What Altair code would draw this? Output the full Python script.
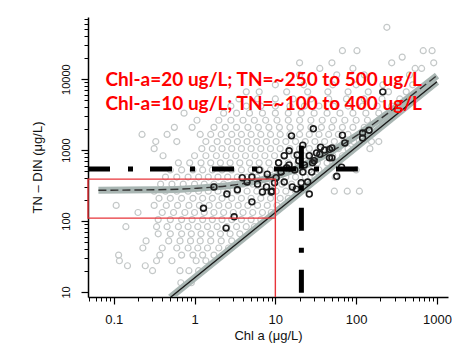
import altair as alt
import pandas as pd

# ---- data (log10 units) ----
# gray points: (log10 TN-DIN, [log10 Chl a, ...])
gray_rows = [
    (1.13, [-0.17, -0.04]),
    (1.30, [-0.52, -0.18, -0.07, 0.05]),
    (1.37, [-0.83, -0.61]),
    (1.44, [-0.93, -0.47, -0.28, 0.02, 0.14]),
    (1.52, [-0.94, -0.43, -0.16, -0.02, 0.10, 0.24]),
    (1.62, [-0.64, -0.40, -0.22, -0.08, 0.04, 0.16, 0.30, 0.42]),
    (1.72, [-0.60, -0.32, -0.18, -0.05, 0.07, 0.20, 0.33, 0.46]),
    (1.82, [-0.45, -0.30, -0.16, -0.04, 0.08, 0.20, 0.32, 0.44, 0.56]),
    (1.92, [-0.85, -0.47, -0.34, -0.20, -0.08, 0.04, 0.16, 0.28, 0.40, 0.52, 0.64, 0.74]),
    (2.02, [-0.45, -0.30, -0.16, -0.03, 0.10, 0.22, 0.34, 0.46, 0.58, 0.70, 0.82]),
    (2.12, [-0.70, -0.40, -0.26, -0.12, 0.00, 0.12, 0.24, 0.36, 0.48, 0.60, 0.72, 0.84, 0.95]),
    (2.22, [-0.97, -0.50, -0.35, -0.21, -0.07, 0.06, 0.18, 0.30, 0.42, 0.54, 0.66, 0.78, 0.90, 1.02]),
    (2.32, [-0.44, -0.30, -0.16, -0.02, 0.10, 0.22, 0.34, 0.46, 0.58, 0.70, 0.82, 0.94, 1.06, 1.16]),
    (2.42, [-0.50, -0.36, -0.22, -0.08, 0.05, 0.17, 0.29, 0.41, 0.53, 0.65, 0.77, 0.89, 1.01, 1.13, 1.25, 1.73, 1.89, 2.04]),
    (2.52, [-0.42, -0.28, -0.14, 0.00, 0.12, 0.24, 0.36, 0.48, 0.60, 0.72, 0.84, 0.96, 1.08, 1.20, 1.32, 1.42]),
    (2.62, [-0.36, -0.22, -0.08, 0.05, 0.17, 0.29, 0.41, 0.53, 0.65, 0.77, 0.89, 1.01, 1.13, 1.25, 1.37, 1.49, 1.74]),
    (2.72, [-0.30, -0.16, -0.02, 0.10, 0.22, 0.34, 0.46, 0.58, 0.70, 0.82, 0.94, 1.06, 1.18, 1.30, 1.42, 1.54, 1.64, 2.00]),
    (2.82, [-0.20, -0.06, 0.08, 0.20, 0.32, 0.44, 0.56, 0.68, 0.80, 0.92, 1.04, 1.16, 1.28, 1.40, 1.52, 1.64, 1.75]),
    (2.92, [-0.39, 0.00, 0.14, 0.27, 0.39, 0.51, 0.63, 0.75, 0.87, 0.99, 1.11, 1.23, 1.35, 1.47, 1.59, 1.71, 1.83]),
    (3.02, [-0.50, 0.09, 0.22, 0.34, 0.46, 0.58, 0.70, 0.82, 0.94, 1.06, 1.18, 1.30, 1.42, 1.54, 1.66, 1.78, 1.90, 2.17]),
    (3.12, [-0.48, -0.22, 0.14, 0.28, 0.41, 0.53, 0.65, 0.77, 0.89, 1.01, 1.13, 1.25, 1.37, 1.49, 1.61, 1.73, 1.85, 1.97, 2.19, 2.28]),
    (3.22, [-0.65, -0.34, 0.07, 0.20, 0.33, 0.46, 0.58, 0.70, 0.82, 0.94, 1.06, 1.18, 1.30, 1.42, 1.54, 1.66, 1.78, 1.90, 2.04]),
    (3.32, [-0.25, -0.03, 0.24, 0.38, 0.52, 0.66, 0.79, 0.92, 1.05, 1.18, 1.31, 1.44, 1.57, 1.70, 1.83, 1.96, 2.10]),
    (3.42, [0.03, 0.30, 0.45, 0.60, 0.74, 0.88, 1.02, 1.16, 1.30, 1.44, 1.58, 1.72, 1.86, 2.00, 2.14, 2.28]),
    (3.52, [-0.13, 0.36, 0.52, 0.68, 0.84, 1.00, 1.16, 1.32, 1.48, 1.64, 1.80, 1.96, 2.12, 2.28, 2.42]),
    (3.62, [0.45, 0.64, 0.82, 1.00, 1.18, 1.36, 1.54, 1.72, 1.90, 2.08, 2.26, 2.44]),
    (3.72, [0.55, 0.78, 1.00, 1.22, 1.44, 1.66, 1.88, 2.10, 2.32, 2.54]),
    (3.82, [0.64, 0.80, 1.14, 1.40, 1.65, 1.90, 2.15, 2.40, 2.62]),
    (3.92, [1.00, 1.35, 1.71, 2.00, 2.33, 2.52, 2.70]),
    (4.06, [1.30, 1.76, 2.10, 2.66]),
    (4.15, [1.55, 1.96, 2.73, 2.81]),
    (4.23, [1.30, 1.70, 2.44, 2.96]),
    (4.31, [2.57]),
    (4.40, [1.83, 2.01, 2.83, 2.94]),
    (4.73, [2.38]),
]

black_chl_log = [2.33, 2.08, 2.16, 1.83, 1.86, 1.70, 1.47, 1.20, 1.34, 1.56, 1.67, 1.17,
                 1.11, 1.27, 1.42, 1.51, 1.70, 1.04, 1.17, 1.46, 1.82, 0.80, 0.90, 1.07,
                 1.14, 1.34, 1.45, 0.59, 0.71, 0.65, 0.78, 0.89, 0.99, 1.11, 1.21, 1.32,
                 1.40, 1.26, 0.53, 0.40, 0.84, 0.96, 0.71, 1.42, 0.24, 0.11, 0.49, 0.39,
                 1.76, 2.08, 1.67, 1.55, 1.29, 1.48, 0.95, 1.24, 1.01, 1.36, 1.61]
black_tn_log = [3.82, 3.24, 3.28, 3.21, 3.10, 3.03, 3.30, 3.20, 3.07, 3.04, 3.01, 2.99,
                2.92, 2.93, 2.92, 2.96, 2.89, 2.82, 2.79, 2.82, 2.76, 2.72, 2.66, 2.69,
                2.75, 2.69, 2.69, 2.61, 2.62, 2.55, 2.52, 2.48, 2.54, 2.55, 2.48, 2.54,
                2.55, 2.45, 2.44, 2.38, 2.41, 2.42, 2.27, 2.38, 2.48, 2.18, 2.06, 1.90,
                2.63, 3.17, 2.89, 2.94, 2.85, 2.85, 2.41, 2.72, 2.61, 2.79, 3.00]

fit_chl_log = [-0.30, 3.00]
fit_tn_log = [0.923, 3.962]
curve_chl_log = [-1.19, -0.5, 0.0, 0.5, 1.0, 1.5, 2.0, 2.5, 3.0]
curve_tn_log = [2.434, 2.44, 2.46, 2.51, 2.63, 2.86, 3.20, 3.61, 4.05]

chl_threshold = 21.0
tn_threshold = 540.0
h_line_chl_end = 105.0
v_line_tn_top = 1150.0
box_chl = [0.048, 10.0]
box_tn = [110.0, 390.0]

notes = ["Chl-a=20 ug/L; TN=~250 to 500 ug/L", "Chl-a=10 ug/L; TN=~100 to 400 ug/L"]
note_chl = [0.079, 0.079]
note_tn = [7900.0, 3630.0]

x_major = [0.1, 1, 10, 100, 1000]
x_minor = [m * d for d in [0.01, 0.1, 1, 10, 100] for m in range(2, 10) if 0.048 <= m * d <= 1370]
y_major = [10, 100, 1000, 10000]
y_minor = [m * d for d in [10, 100, 1000, 10000] for m in range(2, 10) if m * d <= 75000]

XDOM = [0.048, 1370]
YDOM = [8.5, 75000]

# ---- tables ----
g_x, g_y = [], []
for ly, lxs in gray_rows:
    for lx in lxs:
        g_x.append(10 ** lx)
        g_y.append(10 ** ly)
gray_df = pd.DataFrame({"x": g_x, "y": g_y})
black_df = pd.DataFrame({"x": [10 ** v for v in black_chl_log], "y": [10 ** v for v in black_tn_log]})
fit_df = pd.DataFrame({"x": [10 ** v for v in fit_chl_log], "y": [10 ** v for v in fit_tn_log]})
curve_df = pd.DataFrame({"x": [10 ** v for v in curve_chl_log], "y": [10 ** v for v in curve_tn_log]})
hline_df = pd.DataFrame({"x": [XDOM[0]], "x2": [h_line_chl_end], "y": [tn_threshold]})
vline_df = pd.DataFrame({"x": [chl_threshold], "y": [v_line_tn_top], "y2": [YDOM[0]]})
box_df = pd.DataFrame({"x": [box_chl[0]], "x2": [box_chl[1]], "y": [box_tn[0]], "y2": [box_tn[1]]})
redv_df = pd.DataFrame({"x": [box_chl[1]], "y": [YDOM[0]], "y2": [box_tn[0]]})
note_df = pd.DataFrame({"x": note_chl, "y": note_tn, "t": notes})

xs = alt.Scale(type="log", domain=XDOM, nice=False)
ys = alt.Scale(type="log", domain=YDOM, nice=False)

FONT = "Liberation Sans"

x_major_axis = alt.Axis(values=x_major, format="~g", tickSize=7, tickWidth=1.2, labelFontSize=13,
                        labelPadding=9, title="Chl a (μg/L)", titleFontSize=13, titleFontWeight="normal",
                        titlePadding=3, grid=False, domainWidth=1.5, orient="bottom")
y_major_axis = alt.Axis(values=y_major, format="~g", tickSize=7, tickWidth=1.2, labelFontSize=11,
                        labelAngle=270, labelAlign="center", labelBaseline="bottom", labelPadding=10,
                        title="TN – DIN (μg/L)", titleFontSize=13, titleFontWeight="normal",
                        titleX=-51, titleY=150, titleAngle=270, titleAlign="center",
                        titleBaseline="middle", grid=False, domainWidth=1.5, orient="left")
x_minor_axis = alt.Axis(values=x_minor, labels=False, tickSize=4, tickWidth=1, domain=False,
                        title=None, grid=False, orient="bottom")
y_minor_axis = alt.Axis(values=y_minor, labels=False, tickSize=4, tickWidth=1, domain=False,
                        title=None, grid=False, orient="left")

gray = alt.Chart(gray_df).mark_point(shape="circle", size=36, filled=False, color="#c4c8c8",
                                      strokeWidth=1.2, opacity=1).encode(
    x=alt.X("x:Q", scale=xs, axis=x_major_axis),
    y=alt.Y("y:Q", scale=ys, axis=y_major_axis))

minor = alt.Chart(black_df).mark_point(opacity=0).encode(
    x=alt.X("x:Q", scale=xs, axis=x_minor_axis),
    y=alt.Y("y:Q", scale=ys, axis=y_minor_axis))

def xy(df_chart):
    return df_chart.encode(x=alt.X("x:Q", scale=xs, axis=None), y=alt.Y("y:Q", scale=ys, axis=None))

fit_band = xy(alt.Chart(fit_df).mark_line(color="#a9b6b3", strokeWidth=7, clip=True))
fit_line = xy(alt.Chart(fit_df).mark_line(color="#1a1a1a", strokeWidth=1.4, clip=True))
curve_band = xy(alt.Chart(curve_df).mark_line(color="#a9b6b3", strokeWidth=7, interpolate="monotone"))
curve_line = xy(alt.Chart(curve_df).mark_line(color="#333333", strokeWidth=1.4, strokeDash=[8, 4],
                                              interpolate="monotone"))
black = xy(alt.Chart(black_df).mark_point(shape="circle", size=34, filled=False, color="#1c1c1c",
                                          strokeWidth=1.6, opacity=1))

hline = alt.Chart(hline_df).mark_rule(color="black", strokeWidth=5, strokeDash=[22, 18, 5, 17],
                                      strokeCap="butt").encode(
    x=alt.X("x:Q", scale=xs, axis=None), x2="x2:Q", y=alt.Y("y:Q", scale=ys, axis=None))
vline = alt.Chart(vline_df).mark_rule(color="black", strokeWidth=5, strokeDash=[23, 17, 5, 17],
                                      strokeCap="butt").encode(
    x=alt.X("x:Q", scale=xs, axis=None), y=alt.Y("y:Q", scale=ys, axis=None), y2="y2:Q")
box = alt.Chart(box_df).mark_rect(fillOpacity=0, stroke="#e8343a", strokeWidth=1.4).encode(
    x=alt.X("x:Q", scale=xs, axis=None), x2="x2:Q", y=alt.Y("y:Q", scale=ys, axis=None), y2="y2:Q")
redv = alt.Chart(redv_df).mark_rule(color="#e8343a", strokeWidth=1.4).encode(
    x=alt.X("x:Q", scale=xs, axis=None), y=alt.Y("y:Q", scale=ys, axis=None), y2="y2:Q")
text = alt.Chart(note_df).mark_text(align="left", baseline="alphabetic", color="#ff0000",
                                    fontSize=19, fontWeight="bold", font="Lato").encode(
    x=alt.X("x:Q", scale=xs, axis=None), y=alt.Y("y:Q", scale=ys, axis=None), text="t:N")

chart = alt.layer(gray, minor, fit_band, curve_band, fit_line, curve_line, black, hline, vline,
                  box, redv, text).resolve_axis(x="independent", y="independent").properties(
    width=360, height=280,
    autosize=alt.AutoSizeParams(type="none"),
    padding={"left": 80, "top": 9, "right": 4, "bottom": 50},
    background="white",
).configure_view(stroke=None).configure_axis(
    labelFont=FONT, titleFont=FONT, domainColor="black", tickColor="black", labelColor="#111111",
    titleColor="#111111")

chart.save("out.html", embed_options={"renderer": "svg", "actions": False})
